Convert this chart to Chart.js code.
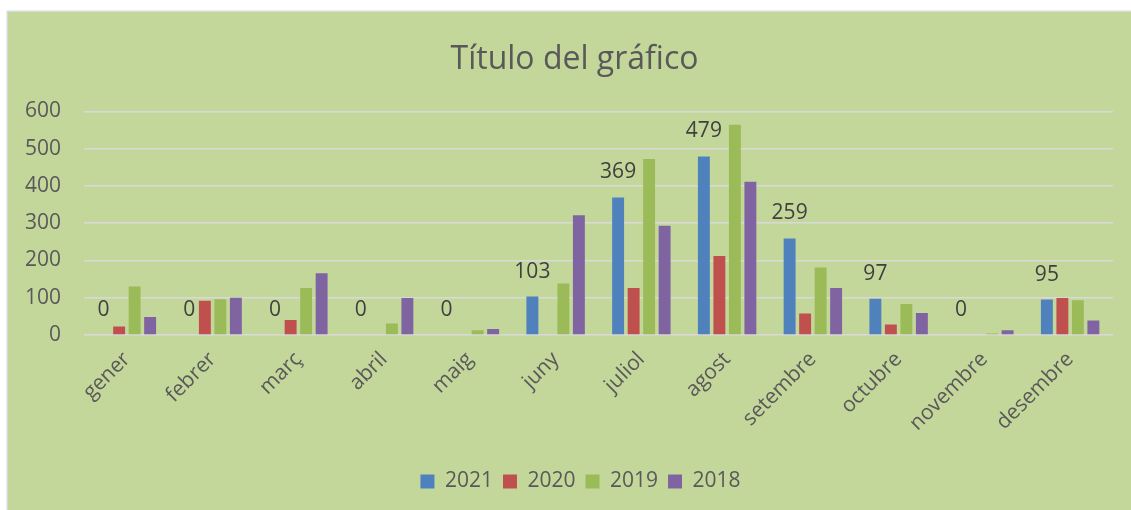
<!DOCTYPE html>
<html>
<head>
<meta charset="utf-8">
<script src="https://cdn.jsdelivr.net/npm/chart.js@4.4.1/dist/chart.umd.min.js"></script>
<style>
  html, body { margin: 0; padding: 0; background: #ffffff; }
  #wrap { width: 1131px; height: 510px; }
</style>
</head>
<body>
<div id="wrap"><canvas id="c" width="1131" height="510"></canvas></div>
<script>
const categories = ['gener','febrer','març','abril','maig','juny','juliol','agost','setembre','octubre','novembre','desembre'];
const series2021 = [0, 0, 0, 0, 0, 103, 369, 479, 259, 97, 0, 95];
const series2020 = [23, 92, 40, 0, 0, 0, 126, 212, 58, 28, 0, 99];
const series2019 = [130, 96, 126, 31, 13, 138, 472, 564, 181, 83, 4, 93];
const series2018 = [48, 100, 166, 99, 16, 321, 293, 411, 126, 59, 13, 39];
const seriesNames = ['2021', '2020', '2019', '2018'];
const yTicks = [0, 100, 200, 300, 400, 500, 600];

const FONT = "'Open Sans', 'DejaVu Sans', sans-serif";
const TEXT = '#595959';

const bgPlugin = {
  id: 'bg',
  beforeDraw(chart) {
    const ctx = chart.ctx;
    ctx.save();
    ctx.fillStyle = '#ffffff';
    ctx.fillRect(0, 0, chart.width, chart.height);
    ctx.fillStyle = '#c4d79b';
    ctx.fillRect(8, 12, chart.width - 8, chart.height - 12);
    ctx.strokeStyle = '#d9d9d9';
    ctx.lineWidth = 1.5;
    ctx.beginPath();
    ctx.moveTo(7.25, chart.height + 5);
    ctx.lineTo(7.25, 11.25);
    ctx.lineTo(chart.width + 5, 11.25);
    ctx.stroke();
    ctx.restore();
  }
};

const boxShift = {
  id: 'boxShift',
  afterLayout(chart) {
    if (chart.legend) {
      chart.legend.left += 20;
      chart.legend.right += 20;
    }
    if (chart.titleBlock) {
      chart.titleBlock.left += 14;
      chart.titleBlock.right += 14;
    }
  }
};

const labelPlugin = {
  id: 'valueLabels',
  afterDatasetsDraw(chart) {
    const ctx = chart.ctx;
    const meta = chart.getDatasetMeta(0);
    ctx.save();
    ctx.font = '21px ' + FONT;
    ctx.fillStyle = '#404040';
    ctx.textAlign = 'center';
    ctx.textBaseline = 'middle';
    meta.data.forEach((bar, i) => {
      ctx.fillText(String(series2021[i]), bar.x, bar.y - 25);
    });
    ctx.restore();
  }
};

new Chart(document.getElementById('c'), {
  type: 'bar',
  data: {
    labels: categories,
    datasets: [
      { label: seriesNames[0], data: series2021, backgroundColor: '#4f81bd' },
      { label: seriesNames[1], data: series2020, backgroundColor: '#c0504d' },
      { label: seriesNames[2], data: series2019, backgroundColor: '#9bbb59' },
      { label: seriesNames[3], data: series2018, backgroundColor: '#8064a2' }
    ]
  },
  options: {
    responsive: false,
    animation: false,
    devicePixelRatio: 1,
    layout: { padding: { left: 8, right: 18, top: 12, bottom: 8 } },
    datasets: { bar: { categoryPercentage: 0.723, barPercentage: 0.77 } },
    plugins: {
      title: {
        display: true,
        text: 'Título del gráfico',
        color: TEXT,
        font: { family: FONT, size: 32, weight: 'normal' },
        padding: { top: 29, bottom: 32 }
      },
      legend: {
        position: 'bottom',
        labels: {
          color: TEXT,
          boxWidth: 14,
          boxHeight: 14,
          padding: 10,
          font: { family: FONT, size: 21 }
        }
      },
      tooltip: { enabled: false }
    },
    scales: {
      x: {
        grid: { display: false, drawTicks: false },
        border: { display: false },
        ticks: {
          color: TEXT,
          font: { family: FONT, size: 21 },
          minRotation: 45,
          maxRotation: 45,
          autoSkip: false,
          padding: 12
        },
        afterFit(scale) { scale.height = 126; }
      },
      y: {
        min: 0,
        max: 600,
        afterBuildTicks(scale) { scale.ticks = yTicks.map(v => ({ value: v })); },
        grid: { color: '#d9d9d9', lineWidth: 1.5, drawTicks: false },
        border: { display: false },
        ticks: {
          color: TEXT,
          font: { family: FONT, size: 21 },
          padding: 23
        },
        afterFit(scale) { scale.width = 76; }
      }
    }
  },
  plugins: [bgPlugin, boxShift, labelPlugin]
});
</script>
</body>
</html>
